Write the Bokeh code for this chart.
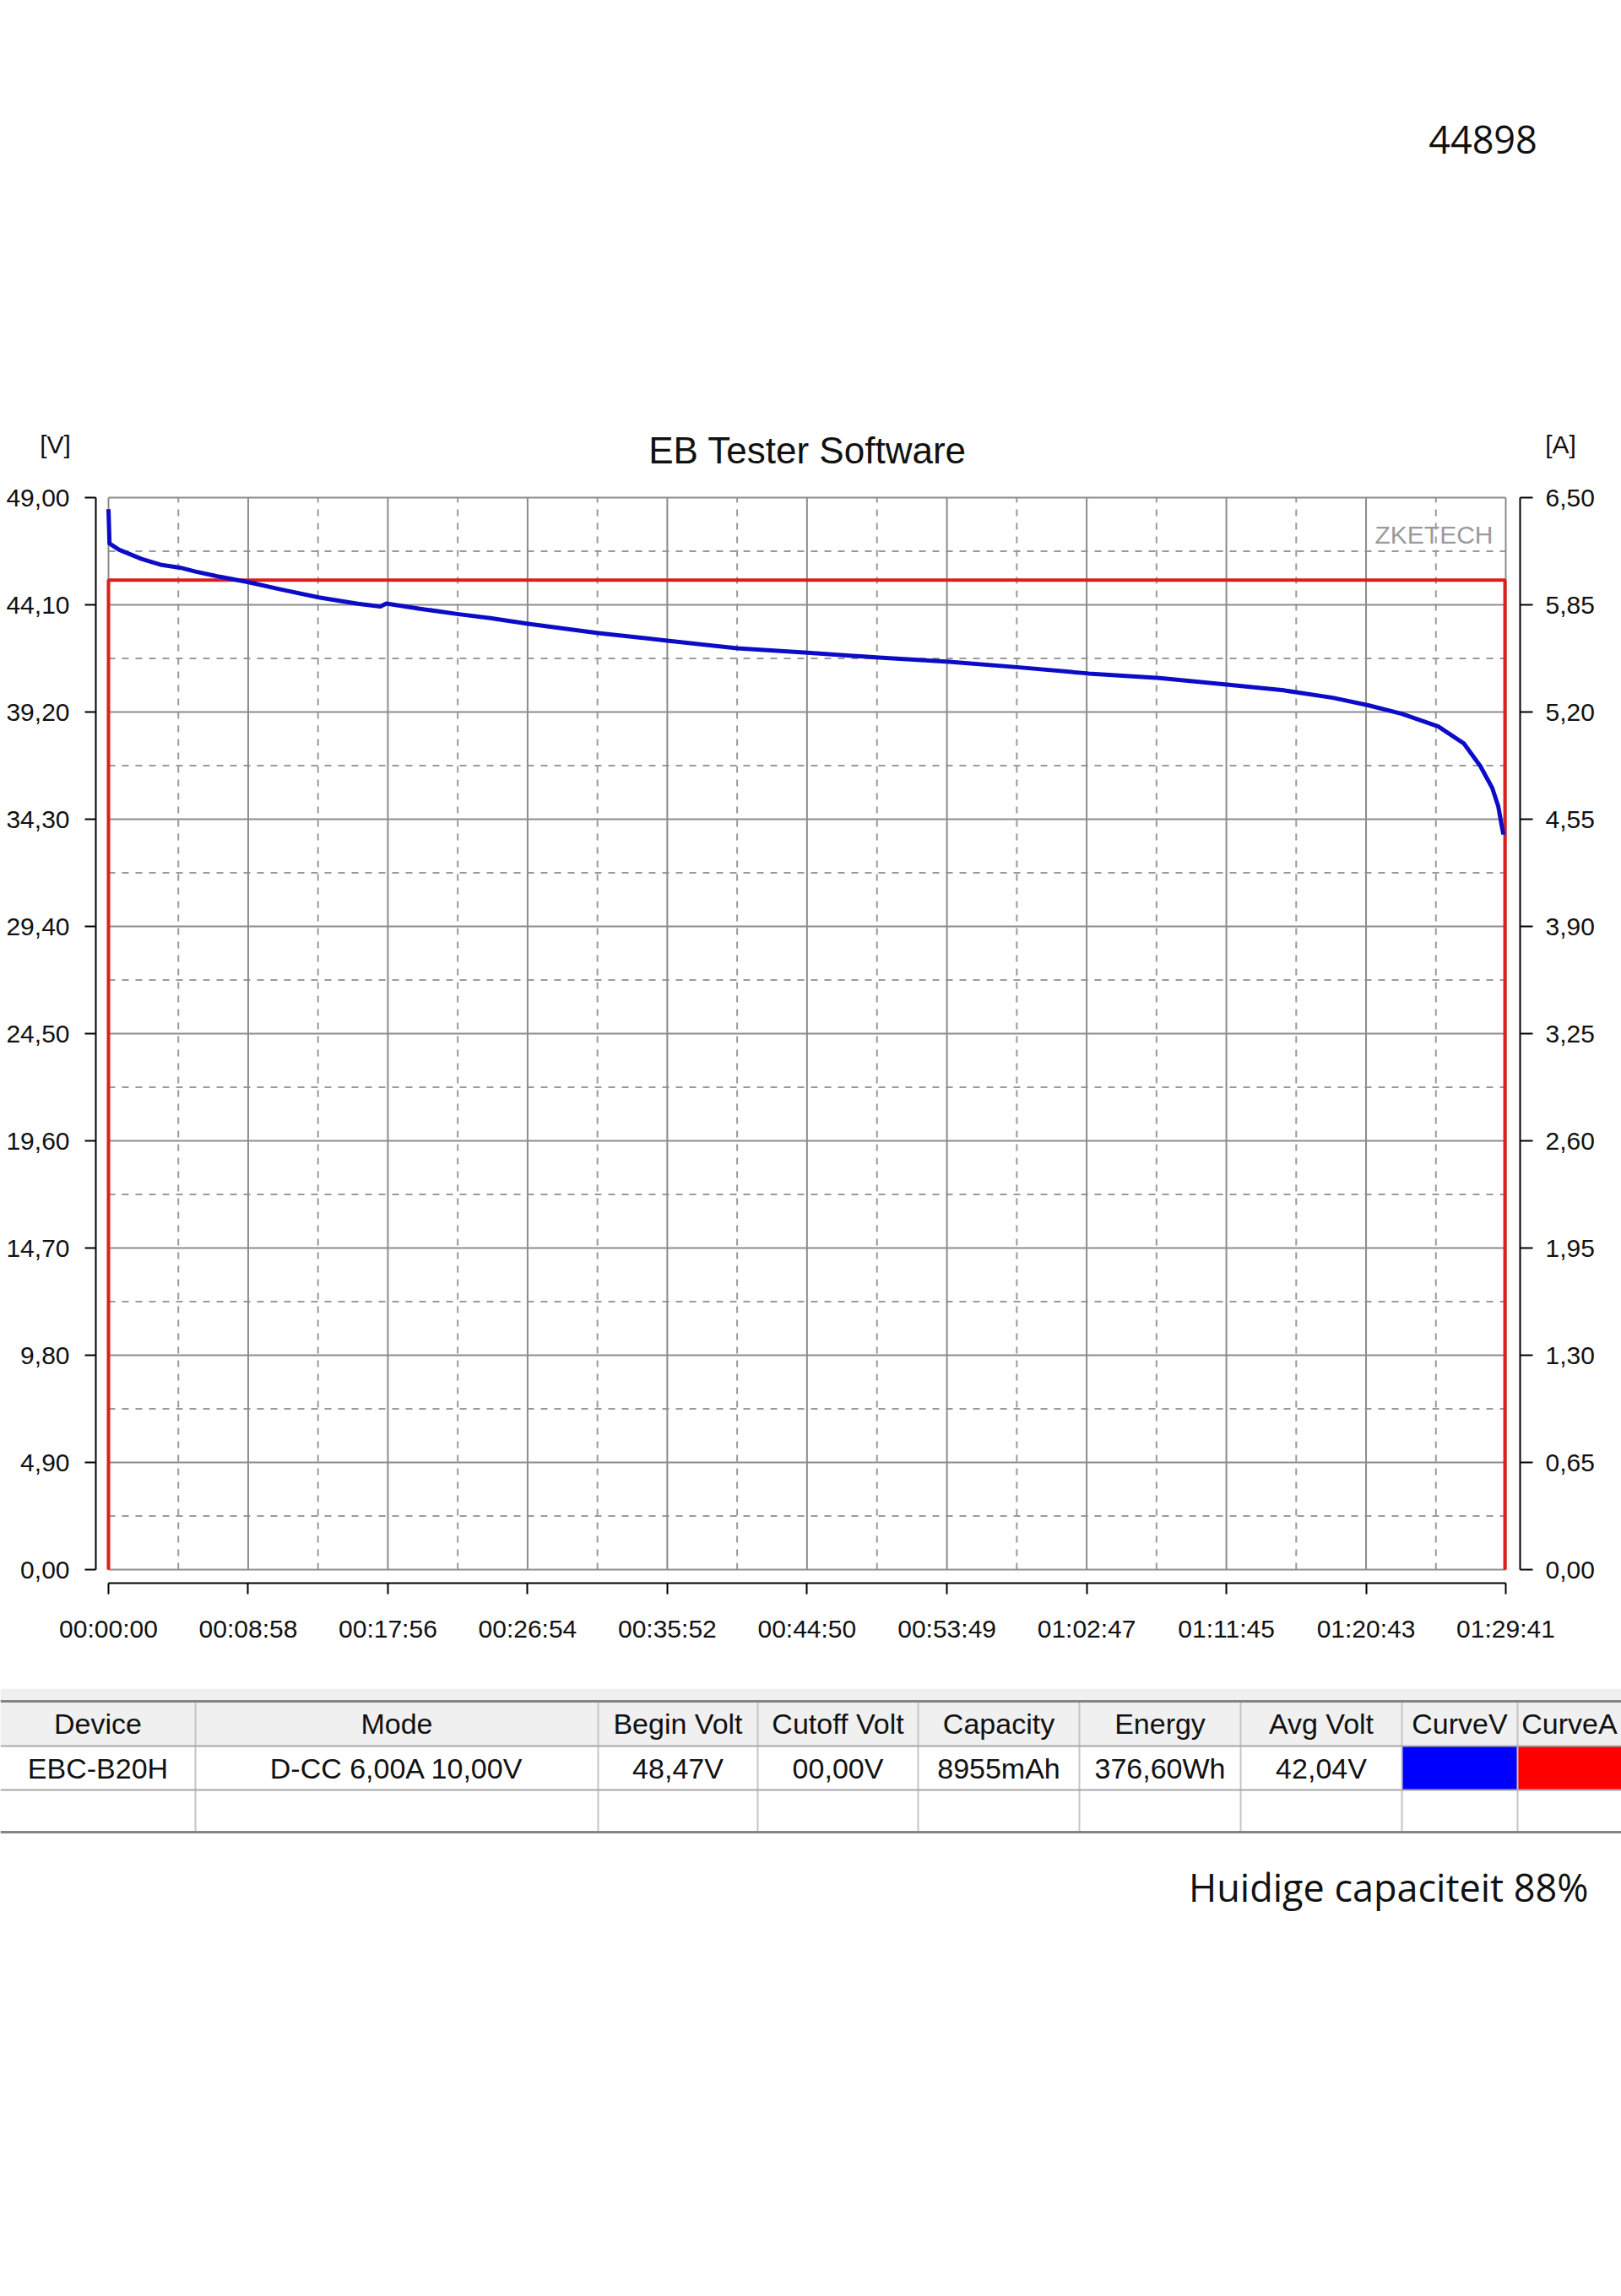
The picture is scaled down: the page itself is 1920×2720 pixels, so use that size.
from bokeh.plotting import figure
from bokeh.models import Range1d, LinearAxis, FixedTicker, CustomJSTickFormatter
from bokeh.layouts import column
from bokeh.core.properties import value
from bokeh.embed import file_html
from bokeh.resources import INLINE

# ---------------- data ----------------
time_s = [0, 4, 40, 127, 205, 275, 335, 429, 536, 665, 810, 960, 1047, 1070, 1200,
          1349, 1470, 1616, 1886, 2152, 2422, 2692, 2968, 3238, 3508, 3775, 4048,
          4315, 4526, 4715, 4851, 4981, 5121, 5219, 5283, 5329, 5352, 5365, 5372]
voltage_v = [48.47, 46.90, 46.62, 46.20, 45.92, 45.80, 45.62, 45.38, 45.14, 44.80,
             44.44, 44.15, 44.02, 44.16, 43.92, 43.67, 43.49, 43.23, 42.81, 42.46,
             42.11, 41.91, 41.69, 41.50, 41.24, 40.96, 40.75, 40.44, 40.19, 39.85,
             39.51, 39.12, 38.54, 37.77, 36.73, 35.73, 34.90, 34.03, 33.60]
current_t = [0, 0, 5378, 5378]
current_a = [0.0, 6.0, 6.0, 0.0]

t_ticks = [0, 538, 1076, 1614, 2152, 2690, 3229, 3767, 4305, 4843, 5381]
t_labels = ["00:00:00", "00:08:58", "00:17:56", "00:26:54", "00:35:52", "00:44:50",
            "00:53:49", "01:02:47", "01:11:45", "01:20:43", "01:29:41"]
v_ticks = [0, 4.9, 9.8, 14.7, 19.6, 24.5, 29.4, 34.3, 39.2, 44.1, 49.0]
v_labels = ["0,00", "4,90", "9,80", "14,70", "19,60", "24,50", "29,40", "34,30",
            "39,20", "44,10", "49,00"]
a_ticks = [0, 0.65, 1.3, 1.95, 2.6, 3.25, 3.9, 4.55, 5.2, 5.85, 6.5]
a_labels = ["0,00", "0,65", "1,30", "1,95", "2,60", "3,25", "3,90", "4,55", "5,20",
            "5,85", "6,50"]

table_columns = ["Device", "Mode", "Begin Volt", "Cutoff Volt", "Capacity", "Energy",
                 "Avg Volt", "CurveV", "CurveA"]
table_row = ["EBC-B20H", "D-CC 6,00A 10,00V", "48,47V", "00,00V", "8955mAh",
             "376,60Wh", "42,04V", "", ""]
curve_colors = ["#0000ff", "#ff0000"]

top_number = "44898"
title_text = "EB Tester Software"
unit_left = "[V]"
unit_right = "[A]"
watermark = "ZKETECH"
footer_text = "Huidige capaciteit 88%"

# ---------------- layout constants (page pixels) ----------------
W = 1920
TOP_H = 400
CH_TOP, CH_BOTTOM = 400, 2000
CHART_H = CH_BOTTOM - CH_TOP
TABLE_H = 2720 - CH_BOTTOM
box_left, box_right, box_top, box_bottom = 128, 1783, 589, 1859
spine_left, spine_right, spine_bottom = 113, 1800, 1875

t_max = t_ticks[-1]
v_max = v_ticks[-1]
a_max = a_ticks[-1]
kx = (box_right - box_left) / t_max
kv = (box_bottom - box_top) / v_max
ka = (box_bottom - box_top) / a_max


def t_at(px):
    return (px - box_left) / kx


def v_at(py):
    return (box_bottom - py) / kv


def a_at(py):
    return (box_bottom - py) / ka


FONT = "Liberation Sans"
BLUE_LINE = "#0c0cc8"
RED_LINE = "#dc1e1e"
TXT = "#111111"


def blank_fig(height, x_range, y_range):
    f = figure(width=W, height=height, x_range=x_range, y_range=y_range,
               x_axis_type=None, y_axis_type=None, min_border=0, title=None,
               output_backend="svg", toolbar_location=None)
    f.outline_line_color = None
    f.background_fill_color = "white"
    f.border_fill_color = "white"
    return f


# ---------------- top figure ----------------
ft = blank_fig(TOP_H, Range1d(0, W), Range1d(TOP_H, 0))
ft.text(x=[1756], y=[165], text=[top_number], text_font=value("Open Sans"),
        text_font_size=value("45px"), text_align="center", text_baseline="middle",
        text_color=TXT)

# ---------------- chart figure ----------------
p = blank_fig(CHART_H, Range1d(t_at(0), t_at(W)), Range1d(v_at(CH_BOTTOM), v_at(CH_TOP)))
p.extra_y_ranges = {"amps": Range1d(a_at(CH_BOTTOM), a_at(CH_TOP))}

# grid (solid at ticks, dashed at midpoints), limited to the plot box
t_mid = [(a + b) / 2 for a, b in zip(t_ticks[:-1], t_ticks[1:])]
v_mid = [(a + b) / 2 for a, b in zip(v_ticks[:-1], v_ticks[1:])]
p.segment(x0=t_mid, y0=[0] * len(t_mid), x1=t_mid, y1=[v_max] * len(t_mid),
          line_color="#9a9a9a", line_width=2, line_dash="8 8")
p.segment(x0=[0] * len(v_mid), y0=v_mid, x1=[t_max] * len(v_mid), y1=v_mid,
          line_color="#9a9a9a", line_width=2, line_dash="8 8")
p.segment(x0=t_ticks, y0=[0] * len(t_ticks), x1=t_ticks, y1=[v_max] * len(t_ticks),
          line_color="#8c8c8c", line_width=2)
p.segment(x0=[0] * len(v_ticks), y0=v_ticks, x1=[t_max] * len(v_ticks), y1=v_ticks,
          line_color="#8c8c8c", line_width=2)

p.text(x=[t_at(1768)], y=[v_at(633)], text=[watermark],
       text_font=value(FONT), text_font_size=value("30px"), text_align="right",
       text_baseline="middle", text_color="#9a9a9a")

p.text(x=[t_at(956)], y=[v_at(533)], text=[title_text], text_font=value(FONT),
       text_font_size=value("44px"), text_align="center", text_baseline="middle",
       text_color=TXT)
p.text(x=[t_at(65), t_at(1848)], y=[v_at(526), v_at(526)], text=[unit_left, unit_right],
       text_font=value(FONT), text_font_size=value("30px"), text_align="center",
       text_baseline="middle", text_color=TXT)

p.line(current_t, current_a, y_range_name="amps", line_color=RED_LINE, line_width=4)
p.line(time_s, voltage_v, line_color=BLUE_LINE, line_width=5, line_join="round")


def fmt(tick_values, tick_texts):
    return CustomJSTickFormatter(args=dict(tvals=tick_values, tlabs=tick_texts), code="""
        const i = tvals.findIndex((t) => Math.abs(t - tick) < 1e-6);
        return i >= 0 ? tlabs[i] : "";
    """)


def style(ax, tick_out, standoff):
    ax.axis_line_color = "black"
    ax.axis_line_width = 2
    ax.major_tick_line_color = "black"
    ax.major_tick_line_width = 2
    ax.major_tick_out = tick_out
    ax.major_tick_in = 0
    ax.minor_tick_line_color = None
    ax.major_label_text_font = FONT
    ax.major_label_text_font_size = "30px"
    ax.major_label_text_color = TXT
    ax.major_label_standoff = standoff


left_ax = LinearAxis(ticker=FixedTicker(ticks=v_ticks), formatter=fmt(v_ticks, v_labels),
                     bounds=(0, v_max), fixed_location=t_at(spine_left))
style(left_ax, 13, 18)
p.add_layout(left_ax, "left")

right_ax = LinearAxis(y_range_name="amps", ticker=FixedTicker(ticks=a_ticks),
                      formatter=fmt(a_ticks, a_labels), bounds=(0, a_max),
                      fixed_location=t_at(spine_right))
style(right_ax, 15, 15)
p.add_layout(right_ax, "right")

bottom_ax = LinearAxis(ticker=FixedTicker(ticks=t_ticks), formatter=fmt(t_ticks, t_labels),
                       bounds=(0, t_max), fixed_location=v_at(spine_bottom))
style(bottom_ax, 13, 24)
p.add_layout(bottom_ax, "below")

# ---------------- table figure ----------------
Y0 = CH_BOTTOM
fb = blank_fig(TABLE_H, Range1d(0, W), Range1d(TABLE_H, 0))

col_edges = [0, 231, 708, 897, 1087, 1278, 1469, 1660, 1797, 1920]
row_lines = [2015 - Y0, 2068 - Y0, 2120 - Y0, 2170 - Y0]

fb.quad(left=[0], right=[W], top=[0], bottom=[row_lines[1]], fill_color="#f0f0f0",
        line_color=None)
fb.quad(left=col_edges[7:9], right=col_edges[8:10], top=[row_lines[1]] * 2,
        bottom=[row_lines[2]] * 2, fill_color=curve_colors, line_color=None)
fb.segment(x0=col_edges[1:-1], y0=[row_lines[0]] * 8, x1=col_edges[1:-1],
           y1=[row_lines[3]] * 8, line_color="#c4c4c4", line_width=2)
fb.segment(x0=[0] * 2, y0=row_lines[1:3], x1=[W] * 2, y1=row_lines[1:3],
           line_color="#a8a8a8", line_width=2)
fb.segment(x0=[0, 0], y0=[row_lines[0], row_lines[3]], x1=[W, W],
           y1=[row_lines[0], row_lines[3]], line_color="#858585", line_width=3)

centers = [(a + b) / 2 for a, b in zip(col_edges[:-1], col_edges[1:])]
fb.text(x=centers, y=[2041 - Y0] * len(centers), text=table_columns,
        text_font=value(FONT), text_font_size=value("34px"), text_align="center",
        text_baseline="middle", text_color=TXT)
fb.text(x=centers, y=[2094 - Y0] * len(centers), text=table_row,
        text_font=value(FONT), text_font_size=value("34px"), text_align="center",
        text_baseline="middle", text_color=TXT)

fb.text(x=[1881], y=[2235 - Y0], text=[footer_text], text_font=value("Open Sans"),
        text_font_size=value("45px"), text_align="right", text_baseline="middle",
        text_color=TXT)

layout = column(ft, p, fb, spacing=0)
open("out.html", "w").write(file_html(layout, INLINE))
